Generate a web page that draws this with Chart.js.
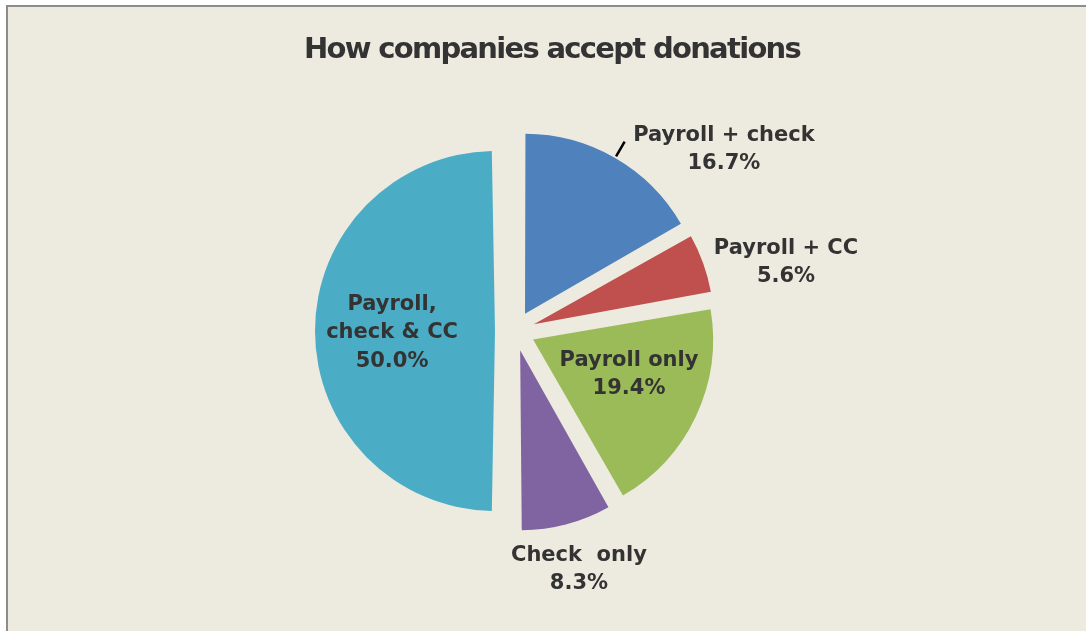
<!DOCTYPE html>
<html>
<head>
    <title>How companies accept donations</title>
    <script src="https://cdn.jsdelivr.net/npm/chart.js"></script>
    <style>
        body {
            margin: 0;
            background-color: white;
        }
        #wrap {
            width: 1086px;
            height: 631px;
        }
    </style>
</head>
<body>
    <div id="wrap"><canvas id="pieChart"></canvas></div>

    <script>
        // chart data
        const TITLE = 'How companies accept donations';
        const categories = [
            ['Payroll + check'],
            ['Payroll + CC'],
            ['Payroll only'],
            ['Check  only'],
            ['Payroll,', 'check & CC']
        ];
        const shares = [16.7, 5.6, 19.4, 8.3, 50.0]; // percent

        const sliceColors = ['#4F81BD', '#C0504D', '#9BBB59', '#8064A2', '#4BACC6'];
        const RADIUS = 180;
        const EXPLODE = 20; // px each slice is pulled out
        // label placement: [angle from 12 o'clock in degrees, distance as fraction of radius]
        const labelPlace = [[49, 1.538], [75.8, 1.553], [110.9, 0.678], [165, 1.372], [269.1, 0.683]];
        const hasLeader = [true, false, false, false, false];

        const BG = '#EDEBE0';
        const TEXT = '#333333';

        const framePlugin = {
            id: 'frame',
            beforeDraw(chart) {
                const c = chart.ctx;
                c.save();
                c.fillStyle = 'white';
                c.fillRect(0, 0, chart.width, chart.height);
                c.fillStyle = BG;
                c.fillRect(7, 6, chart.width, chart.height);
                c.strokeStyle = '#8C8C8C';
                c.lineWidth = 2;
                c.strokeRect(7, 6, chart.width + 20, chart.height + 20);
                c.restore();
            },
            beforeDatasetsDraw(chart) {
                // arc draw grows the radius by offset/4 * (1 - sin(circumference)); keep every slice the same size
                chart.getDatasetMeta(0).data.forEach(arc => {
                    const fix = 1 - Math.sin(Math.min(Math.PI, arc.circumference));
                    arc.outerRadius = RADIUS - (arc.options.offset / 4) * fix;
                });
            },
            afterDraw(chart) {
                const c = chart.ctx;
                c.save();
                c.fillStyle = TEXT;
                c.textAlign = 'center';
                c.textBaseline = 'alphabetic';
                c.font = 'bold 29px "DejaVu Sans"';
                c.letterSpacing = '-1.7px';
                c.fillText(TITLE, 552, 58);
                c.letterSpacing = '0px';

                const meta = chart.getDatasetMeta(0);
                const total = shares.reduce((a, b) => a + b, 0);
                c.font = 'bold 21px "DejaVu Sans"';
                c.textBaseline = 'middle';
                meta.data.forEach((arc, i) => {
                    const r = RADIUS;
                    const cx = arc.x, cy = arc.y;
                    const ang = labelPlace[i][0] * Math.PI / 180;
                    const lx = cx + Math.sin(ang) * r * labelPlace[i][1];
                    const ly = cy - Math.cos(ang) * r * labelPlace[i][1];
                    const lines = categories[i].concat([(shares[i] / total * 100).toFixed(1) + '%']);
                    const lh = 28.5;
                    const y0 = ly - (lines.length - 1) * lh / 2;
                    lines.forEach((t, k) => c.fillText(t, lx, y0 + k * lh));

                    if (hasLeader[i]) {
                        const mid = (arc.startAngle + arc.endAngle) / 2;
                        const ex = cx + Math.cos(mid) * EXPLODE;
                        const ey = cy + Math.sin(mid) * EXPLODE;
                        c.strokeStyle = '#000';
                        c.lineWidth = 2.5;
                        c.beginPath();
                        c.moveTo(ex + Math.cos(mid) * r * 1.01, ey + Math.sin(mid) * r * 1.01);
                        c.lineTo(ex + Math.cos(mid) * r * 1.105, ey + Math.sin(mid) * r * 1.105);
                        c.stroke();
                    }
                });
                c.restore();
            }
        };

        const ctx = document.getElementById('pieChart').getContext('2d');
        const pieChart = new Chart(ctx, {
            type: 'pie',
            data: {
                labels: categories,
                datasets: [{
                    data: shares,
                    backgroundColor: sliceColors,
                    borderWidth: 0,
                    offset: EXPLODE * 4, // arc is moved by offset/4
                    hoverOffset: 0
                }]
            },
            options: {
                responsive: true,
                maintainAspectRatio: false,
                animation: false,
                radius: RADIUS,
                layout: {
                    padding: { top: 31, right: 56, bottom: 0, left: 0 }
                },
                events: [],
                plugins: {
                    legend: { display: false },
                    title: { display: false },
                    tooltip: { enabled: false }
                }
            },
            plugins: [framePlugin]
        });
    </script>
</body>
</html>
